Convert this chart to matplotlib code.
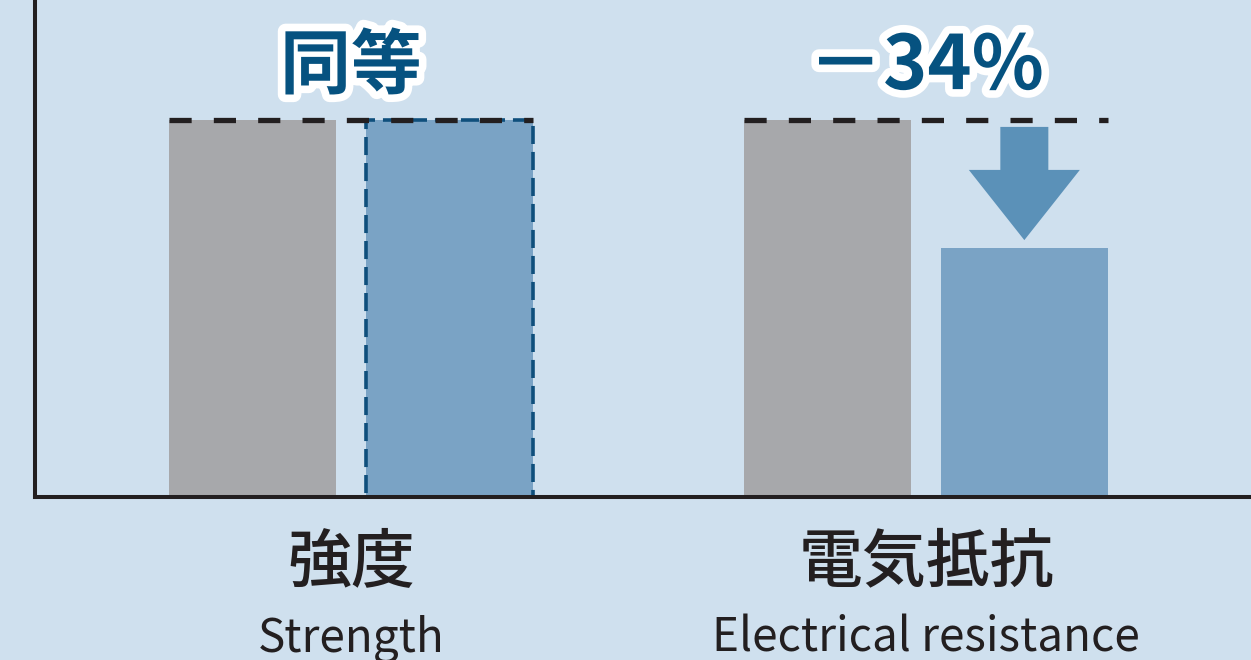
import matplotlib
matplotlib.use('Agg')
import matplotlib.pyplot as plt
import matplotlib.patheffects as pe
from matplotlib.patches import Polygon
import numpy as np

# ---- data ----
categories_ja = ['強度', '電気抵抗']
categories_en = ['Strength', 'Electrical resistance']
conventional = [100, 100]
new_material = [100, 66]
change_labels = ['同等', '－34%']

plt.rcParams['font.family'] = ['Noto Sans CJK JP', 'DejaVu Sans']

bg = '#cfe0ee'
gray = '#a7a8ab'
blue = '#7aa3c5'
arrow_c = '#5b91b8'
text_blue = '#065280'
dark = '#231f20'

fig = plt.figure(figsize=(12.51, 6.6), dpi=100)
fig.patch.set_facecolor(bg)
ax = fig.add_axes([0.0276, 0.247, 0.9724, 0.753])
ax.set_facecolor(bg)

x = np.arange(len(categories_ja))
w = 0.29
off = 0.171
ax.set_xlim(-0.5504, 1.5652)
ax.set_ylim(0, 131.8)

ax.bar(x - off, conventional, w, color=gray, zorder=2)
bars_new = ax.bar(x + off, new_material, w, color=blue, zorder=2)
for i, b in enumerate(bars_new):
    if new_material[i] == conventional[i]:
        b.set_edgecolor('#0f4f7c')
        b.set_linewidth(2.6)
        b.set_linestyle((0, (5, 2.2)))

# reference dashed lines
for i in range(len(x)):
    ax.hlines(conventional[i], x[i] - off - w / 2, x[i] + off + w / 2,
              colors=dark, linestyles=(0, (4.2, 4.2)), lw=3.8, zorder=4)

# pixel -> data conversions
fig_w_px = 1251
ax_w_px = 0.9724 * fig_w_px
ax_h_px = 0.753 * 660
xu = (1.5652 + 0.5504) / ax_w_px
yu = 131.8 / ax_h_px

for i in range(len(x)):
    if new_material[i] < conventional[i]:
        cx = x[i] + off
        top = conventional[i] - 7 * yu
        hb = conventional[i] - 50 * yu
        tip = new_material[i] + 8 * yu
        sw = 24 * xu
        hw = 55.5 * xu
        poly = Polygon([(cx - sw, top), (cx + sw, top), (cx + sw, hb), (cx + hw, hb),
                        (cx, tip), (cx - hw, hb), (cx - sw, hb)],
                       closed=True, facecolor=arrow_c, edgecolor='none', zorder=3)
        ax.add_patch(poly)

# top labels
label_sizes = [51, 54]
for i in range(len(x)):
    ax.text(x[i], conventional[i] + 14.0, change_labels[i], ha='center', va='center',
            fontsize=label_sizes[i], fontweight='bold', color=text_blue, zorder=5,
            path_effects=[pe.withStroke(linewidth=11, foreground='white')])

# category labels
for i in range(len(x)):
    ax.text(x[i], -0.133, categories_ja[i], transform=ax.get_xaxis_transform(),
            ha='center', va='center', fontsize=46, fontweight='medium', color=dark,
            clip_on=False)
    ax.text(x[i], -0.31, categories_en[i], transform=ax.get_xaxis_transform(),
            ha='center', va='baseline', fontsize=33, color=dark, clip_on=False)

for s in ['top', 'right']:
    ax.spines[s].set_visible(False)
for s in ['left', 'bottom']:
    ax.spines[s].set_linewidth(2.9)
    ax.spines[s].set_color(dark)
ax.set_xticks([])
ax.set_yticks([])

fig.savefig('out.png', dpi=100, facecolor=bg)
